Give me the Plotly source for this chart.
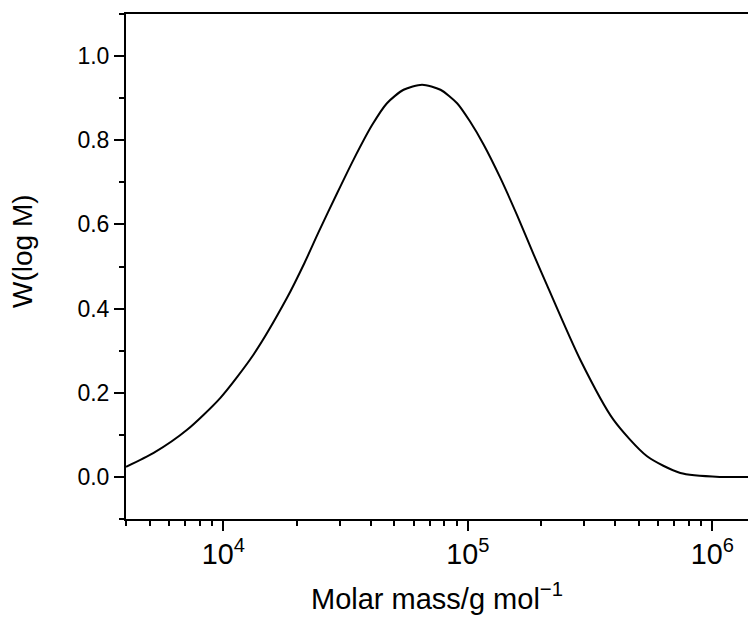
import plotly.graph_objects as go

# Molar mass (g/mol)
molar_mass = [4000, 5190, 7110, 9730, 13300, 18200, 21500, 24500, 29200, 34100,
              40600, 46700, 54600, 65000, 77300, 90400, 102000, 116000, 136000,
              159000, 186000, 211000, 288000, 394000, 541000, 740000, 1080000, 1400000]
# W(log M) values
w_log_m = [0.024, 0.057, 0.112, 0.188, 0.291, 0.425, 0.509, 0.581, 0.674, 0.754,
           0.836, 0.888, 0.920, 0.932, 0.920, 0.888, 0.845, 0.790, 0.710,
           0.622, 0.528, 0.455, 0.279, 0.136, 0.049, 0.0095, 0.0, 0.0]

x_title = "Molar mass/g mol<sup>\u22121</sup>"
y_title = "W(log M)"

FONT = "Liberation Sans, Arial, sans-serif"

fig = go.Figure()
fig.add_trace(go.Scatter(x=molar_mass, y=w_log_m, mode="lines",
                         line=dict(color="black", width=2, shape="spline", smoothing=0.7),
                         showlegend=False, hoverinfo="skip"))

fig.update_layout(
    width=748, height=619,
    margin=dict(l=126, r=0, t=14, b=100),
    paper_bgcolor="white", plot_bgcolor="white",
    font=dict(family=FONT, color="black", size=23),
    xaxis=dict(
        type="log", range=[3.602, 6.146],
        dtick=1, exponentformat="power", showexponent="all",
        showgrid=False, zeroline=False,
        showline=True, linecolor="black", linewidth=2, mirror=True,
        ticks="outside", ticklen=10, tickwidth=2, tickcolor="black",
        tickfont=dict(size=23, family=FONT),
        minor=dict(ticks="outside", ticklen=5, tickwidth=2, tickcolor="black", dtick="D1", showgrid=False),
        title=dict(text=x_title, font=dict(size=29, family=FONT), standoff=19),
    ),
    yaxis=dict(
        range=[-0.1, 1.1],
        tickvals=[0.0, 0.2, 0.4, 0.6, 0.8, 1.0],
        ticktext=["0.0", "0.2", "0.4", "0.6", "0.8", "1.0"],
        showgrid=False, zeroline=False,
        showline=True, linecolor="black", linewidth=2, mirror=False,
        ticks="outside", ticklen=10, tickwidth=2, tickcolor="black",
        tickfont=dict(size=23, family=FONT),
        minor=dict(ticks="outside", ticklen=5, tickwidth=2, tickcolor="black",
                   tickvals=[-0.1, 0.1, 0.3, 0.5, 0.7, 0.9, 1.1], showgrid=False),
        title=dict(text=""),
    ),
    annotations=[dict(text=y_title, xref="paper", yref="paper",
                      x=-126/622 + 22/622, y=(519 - 251) / 505,
                      xanchor="center", yanchor="middle", textangle=-90, showarrow=False,
                      font=dict(size=28, family=FONT, color="black"))],
)

fig.write_html("out.html")
